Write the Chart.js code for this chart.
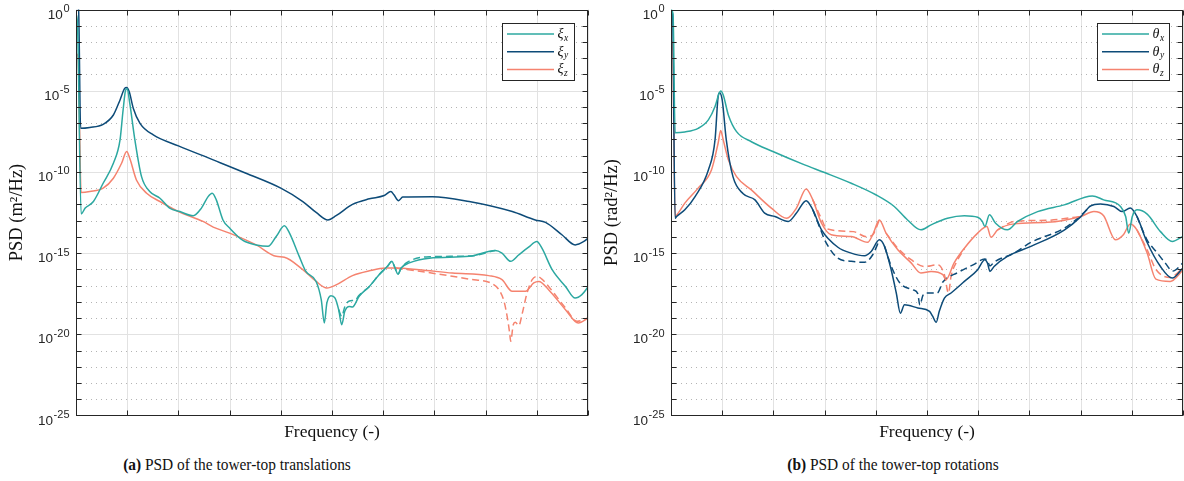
<!DOCTYPE html>
<html>
<head>
<meta charset="utf-8">
<script src="https://cdn.jsdelivr.net/npm/chart.js@4.4.1/dist/chart.umd.min.js"></script>
<style>
  html, body { margin: 0; padding: 0; background: #fff; }
  #page { position: relative; width: 1184px; height: 481px; overflow: hidden; }
  .panel { position: absolute; top: 0; width: 595px; height: 448px; }
  .caption { position: absolute; top: 454px; width: 400px; text-align: center;
             font-family: "Liberation Serif", serif; font-size: 17.5px; color: #111;
             transform: scaleX(0.88); transform-origin: center; }
</style>
</head>
<body>
<div id="page">
  <div class="panel" style="left:0"><canvas id="psdTrans" width="595" height="448"></canvas></div>
  <div class="panel" style="left:595px"><canvas id="psdRot" width="595" height="448"></canvas></div>
  <div class="caption" style="left:37px"><b>(a)</b> PSD of the tower-top translations</div>
  <div class="caption" style="left:693px"><b>(b)</b> PSD of the tower-top rotations</div>
</div>
<script>
// axis setup
var freqTicks = [0, 1, 2, 3, 4, 5, 6, 7, 8, 9, 10];
var psdTicks = [1, 1e-5, 1e-10, 1e-15, 1e-20, 1e-25];
var psdTickExp = ['0', '-5', '-10', '-15', '-20', '-25'];
var legendSubs = ['x', 'y', 'z'];

// (a) translations, solid
var xiX_f = [0, 0.03, 0.10, 0.18, 0.34, 0.53, 0.73, 0.86, 0.92, 0.97, 1.0, 1.05, 1.15, 1.28, 1.44, 1.64, 1.83, 2.03, 2.29, 2.45, 2.58, 2.66, 2.74, 2.87, 3.0, 3.26, 3.52, 3.75, 3.91, 4.07, 4.17, 4.36, 4.49, 4.69, 4.79, 4.85, 4.90, 4.98, 5.06, 5.13, 5.19, 5.25, 5.34, 5.40, 5.53, 5.73, 5.92, 6.08, 6.17, 6.22, 6.29, 6.35, 6.51, 6.90, 7.68, 8.19, 8.32, 8.49, 8.65, 8.84, 9.0, 9.10, 9.30, 9.56, 9.75, 9.88, 10];
var xiX_psd = [0.56, 0.1, 2.6e-13, 5.9e-13, 1.5e-12, 2.0e-11, 3.4e-10, 9.3e-9, 6.5e-7, 1.1e-5, 1.3e-5, 1.7e-6, 9.3e-9, 5.1e-11, 6.2e-12, 2.4e-12, 5.9e-13, 3.6e-13, 2.0e-13, 5.9e-13, 3.0e-12, 4.9e-12, 1.9e-12, 1.1e-13, 3.5e-14, 6.0e-15, 3.2e-15, 2.6e-15, 1.05e-14, 4.8e-14, 1.7e-14, 6.3e-16, 7.4e-17, 1.8e-17, 1.35e-18, 5.0e-20, 8.5e-19, 2.4e-18, 1.7e-18, 3.3e-19, 3.9e-20, 2.6e-19, 5.2e-19, 4.8e-19, 2.2e-18, 8.9e-18, 4.7e-17, 1.5e-16, 3.1e-16, 1.5e-16, 5.1e-17, 1.2e-16, 2.5e-16, 4.9e-16, 6.3e-16, 1.45e-15, 1.0e-15, 3.1e-16, 7.9e-16, 2.3e-15, 5.2e-15, 2.0e-15, 9.5e-17, 8.9e-18, 1.7e-18, 2.75e-18, 8.1e-18];

var xiY_f = [0, 0.05, 0.09, 0.27, 0.53, 0.73, 0.86, 0.95, 0.99, 1.04, 1.12, 1.25, 1.51, 2.0, 2.68, 3.32, 4.0, 4.43, 4.69, 4.92, 5.08, 5.40, 5.73, 6.02, 6.15, 6.21, 6.30, 6.38, 6.96, 7.68, 8.52, 8.97, 9.17, 9.49, 9.75, 9.92, 10];
var xiY_psd = [1.5, 1.0, 4.8e-8, 5.4e-8, 8.5e-8, 3.2e-7, 2.7e-6, 1.4e-5, 1.6e-5, 8.7e-6, 8.1e-7, 9.8e-8, 1.9e-8, 4.0e-9, 5.5e-10, 8.3e-11, 1.0e-11, 1.5e-12, 3.2e-13, 1.1e-13, 2.0e-13, 1.0e-12, 2.2e-12, 3.5e-12, 6.2e-12, 3.9e-12, 1.7e-12, 2.8e-12, 3.0e-12, 1.5e-12, 3.6e-13, 1.1e-13, 7.8e-14, 1.35e-14, 3.2e-15, 5.2e-15, 8.3e-15];

var xiZ_f = [0, 0.04, 0.10, 0.27, 0.53, 0.73, 0.89, 0.99, 1.05, 1.18, 1.38, 1.64, 2.0, 2.48, 2.68, 3.0, 3.52, 3.91, 4.07, 4.43, 4.69, 4.90, 5.08, 5.40, 5.73, 6.05, 6.25, 6.70, 7.35, 8.06, 8.32, 8.52, 8.78, 8.94, 9.04, 9.23, 9.56, 9.81, 10];
var xiZ_psd = [2.0e-3, 1.2e-3, 5.4e-12, 6.2e-12, 1.0e-11, 4.1e-11, 3.4e-10, 1.8e-9, 6.9e-10, 3.2e-11, 4.9e-12, 1.5e-12, 3.6e-13, 8.9e-14, 4.0e-14, 1.7e-14, 3.2e-15, 6.3e-16, 5.6e-16, 9.5e-17, 1.8e-17, 7.1e-18, 1.1e-17, 4.1e-17, 8.1e-17, 1.2e-16, 1.2e-16, 9.5e-17, 5.9e-17, 4.1e-17, 2.3e-17, 4.4e-18, 4.4e-18, 1.45e-17, 1.8e-17, 5.6e-18, 3.3e-19, 5.0e-20, 1.0e-19];

// (a) translations, dashed (only where it leaves the solid curve)
var xiXd_f = [5.13, 5.19, 5.25, 5.34, 5.45, 5.53, 5.73, 5.92, 6.08, 6.17, 6.22, 6.29, 6.35, 6.51, 6.90, 7.68, 8.19];
var xiXd_psd = [3.3e-19, 1.26e-19, 5.0e-19, 1.12e-18, 1.26e-18, 2.5e-18, 8.9e-18, 4.7e-17, 1.5e-16, 3.1e-16, 1.5e-16, 5.1e-17, 1.2e-16, 3.2e-16, 6.0e-16, 6.6e-16, 1.45e-15];
var xiZd_f = [6.25, 6.38, 7.03, 7.68, 8.13, 8.26, 8.36, 8.42, 8.47, 8.49, 8.54, 8.58, 8.65, 8.71, 8.81, 8.91, 9.01, 9.10, 9.23, 9.56, 9.79, 10];
var xiZd_psd = [1.2e-16, 1.05e-16, 5.4e-17, 2.5e-17, 1.3e-17, 5.6e-18, 1.07e-18, 1.3e-19, 1.2e-20, 3.7e-21, 3.9e-20, 5.5e-20, 3.4e-20, 1.6e-19, 3.5e-18, 2.3e-17, 3.7e-17, 2.5e-17, 8.9e-18, 4.2e-19, 6.3e-20, 1.0e-19];

// (b) rotations, solid
var thX_f = [0, 0.04, 0.08, 0.27, 0.53, 0.73, 0.86, 0.94, 0.97, 1.02, 1.12, 1.28, 1.57, 1.99, 2.61, 3.0, 3.52, 4.0, 4.36, 4.62, 4.88, 5.08, 5.40, 5.73, 5.99, 6.08, 6.13, 6.22, 6.34, 6.57, 6.77, 7.16, 7.68, 8.23, 8.45, 8.78, 8.88, 8.94, 9.01, 9.10, 9.30, 9.56, 9.79, 10];
var thX_psd = [1.0, 0.5, 2.6e-8, 2.9e-8, 4.8e-8, 1.6e-7, 1.05e-6, 6.9e-6, 9.5e-6, 5.4e-6, 3.2e-7, 3.0e-8, 7.2e-9, 1.8e-9, 2.7e-10, 9.1e-11, 2.0e-11, 3.9e-12, 7.4e-13, 1.1e-13, 2.7e-14, 5.5e-14, 1.4e-13, 2.0e-13, 1.6e-13, 8.9e-14, 4.3e-14, 2.3e-13, 6.9e-14, 2.7e-14, 8.9e-14, 3.6e-13, 9.3e-13, 3.3e-12, 1.9e-12, 7.4e-13, 1.8e-13, 1.7e-14, 1.8e-13, 4.6e-13, 2.5e-13, 2.1e-14, 5.2e-15, 1.07e-14];

var thY_f = [0, 0.03, 0.08, 0.11, 0.27, 0.47, 0.73, 0.86, 0.92, 0.95, 1.0, 1.08, 1.21, 1.41, 1.64, 1.83, 2.03, 2.29, 2.45, 2.64, 2.77, 2.94, 3.26, 3.52, 3.78, 3.91, 4.07, 4.17, 4.30, 4.40, 4.48, 4.56, 4.82, 5.05, 5.11, 5.18, 5.24, 5.34, 5.47, 5.73, 5.99, 6.13, 6.18, 6.23, 6.31, 6.57, 7.03, 7.68, 8.0, 8.19, 8.39, 8.65, 8.81, 8.97, 9.10, 9.30, 9.56, 9.79, 10];
var thY_psd = [0.63, 0.56, 1.4e-13, 1.8e-13, 4.6e-13, 3.0e-12, 1.3e-10, 9.3e-9, 4.3e-6, 7.6e-6, 2.7e-6, 9.3e-9, 5.1e-11, 4.5e-12, 1.9e-12, 2.9e-13, 1.8e-13, 8.9e-14, 2.9e-13, 1.7e-12, 4.6e-13, 2.7e-14, 2.3e-15, 1.0e-15, 6.9e-16, 1.26e-15, 6.6e-15, 2.6e-15, 9.5e-17, 3.5e-18, 2.0e-19, 6.6e-19, 4.2e-19, 2.6e-19, 1.3e-19, 5.5e-20, 2.6e-19, 1.7e-18, 3.5e-18, 1.8e-17, 9.5e-17, 3.9e-16, 2.5e-16, 7.4e-17, 1.5e-16, 6.3e-16, 2.6e-15, 2.6e-14, 1.7e-13, 7.9e-13, 1.07e-12, 7.4e-13, 3.6e-13, 5.9e-13, 1.8e-13, 4.5e-15, 1.5e-16, 2.9e-17, 1.26e-16];

var thZ_f = [0, 0.03, 0.08, 0.14, 0.27, 0.53, 0.79, 0.92, 0.97, 1.02, 1.12, 1.28, 1.57, 1.96, 2.26, 2.45, 2.64, 2.77, 2.94, 3.13, 3.52, 3.84, 3.94, 4.07, 4.20, 4.43, 4.69, 4.88, 5.08, 5.31, 5.37, 5.53, 5.73, 5.99, 6.17, 6.25, 6.38, 6.70, 7.35, 8.0, 8.26, 8.45, 8.68, 8.84, 8.97, 9.10, 9.30, 9.47, 9.75, 10];
var thZ_psd = [1.3e-2, 8.1e-3, 1.8e-13, 2.9e-13, 1.2e-12, 1.0e-11, 1.3e-10, 5.8e-9, 3.5e-8, 9.3e-9, 5.5e-10, 5.1e-11, 7.8e-12, 5.9e-13, 1.4e-13, 5.9e-13, 8.9e-12, 1.9e-12, 6.9e-14, 1.35e-14, 1.05e-14, 4.6e-15, 1.35e-14, 1.1e-13, 1.7e-14, 1.6e-15, 2.5e-16, 5.9e-17, 7.4e-17, 4.7e-17, 2.3e-17, 2.5e-16, 2.0e-15, 1.7e-14, 4.4e-14, 9.5e-15, 2.7e-14, 6.3e-14, 7.8e-14, 1.8e-13, 3.6e-13, 2.0e-13, 6.6e-15, 1.4e-14, 6.3e-14, 2.7e-14, 1.0e-15, 2.5e-17, 1.8e-17, 9.1e-17];

// (b) rotations, dashed (null = gap between segments)
var thYd_f = [2.77, 2.94, 3.0, 3.26, 3.52, 3.78, 3.94, 4.07, 4.12, 4.17, 4.30, 4.47, 4.73, 4.82, 4.86, 4.92, 5.0, 5.2, 5.31, 5.6, 5.9, 6.13, 6.18, 6.23, 6.31, 6.70, 7.03, 7.68, 8.0, 8.19, 8.6, 9.10, 9.30, 9.49, 9.65, 9.80, 10];
var thYd_psd = [4.6e-13, 2.0e-14, 6.6e-15, 4.9e-16, 3.1e-16, 2.7e-16, 7.9e-16, 6.6e-15, null, 2.6e-15, 1.6e-16, 1.45e-17, 5.4e-18, 3.2e-18, 6.3e-19, 2.5e-18, 3.5e-18, 3.5e-18, 1.66e-17, 6.3e-17, 1.9e-16, 4.3e-16, 3.5e-16, 1.6e-16, 2.8e-16, 1.0e-15, 4.6e-15, 3.4e-14, 2.0e-13, 7.9e-13, null, 1.8e-13, 6.3e-15, 1.1e-15, 2.5e-16, 7.9e-17, 2.5e-16];
var thZd_f = [2.77, 2.94, 3.04, 3.56, 3.82, 3.94, 4.07, 4.13, 4.20, 4.43, 4.69, 4.95, 5.21, 5.34, 5.42, 5.47, 5.60, 5.73, 6.0, 6.38, 6.70, 7.35, 8.0, 8.6, 9.10, 9.30, 9.47, 9.75, 10];
var thZd_psd = [1.9e-12, 1.26e-13, 3.2e-14, 2.1e-14, 1.02e-14, 1.35e-14, 1.1e-13, null, 1.7e-14, 2.0e-15, 3.9e-16, 1.5e-16, 1.9e-16, 4.7e-17, 3.5e-18, 3.7e-17, 3.9e-16, 1.8e-15, null, 2.7e-14, 8.9e-14, 1.05e-13, 1.8e-13, null, 2.7e-14, 1.6e-15, 1.0e-16, 3.2e-17, 1.2e-16];

var cTeal = '#2ca8a1', cNavy = '#0d4b78', cSalmon = '#f5836f';
var cAxis = '#262626';

function pts(f, p) {
    return f.map(function (v, i) { return { x: v, y: p[i] }; });
}

function curve(label, f, p, color, dashed) {
    return {
        label: label,
        data: pts(f, p),
        borderColor: color,
        borderWidth: 1.5,
        borderDash: dashed ? [7, 4] : [],
        pointRadius: 0,
        fill: false,
        cubicInterpolationMode: 'monotone',
        spanGaps: false
    };
}

// grid, box, inward ticks, tick labels, titles and the in-plot legend
var framePlugin = {
    id: 'frame',
    beforeDatasetsDraw: function (chart) {
        var ctx = chart.ctx, a = chart.chartArea;
        var xs = chart.scales.x, ys = chart.scales.y;
        ctx.save();
        ctx.lineWidth = 1;
        ctx.strokeStyle = '#e2e2e2';
        freqTicks.forEach(function (f) {
            var px = Math.round(xs.getPixelForValue(f)) + 0.5;
            ctx.beginPath(); ctx.moveTo(px, a.top); ctx.lineTo(px, a.bottom); ctx.stroke();
        });
        for (var e = -24; e < 0; e++) {
            var py = Math.round(ys.getPixelForValue(Math.pow(10, e))) + 0.5;
            if (e % 5 === 0) {
                ctx.setLineDash([]);
                ctx.strokeStyle = '#e2e2e2';
            } else {
                ctx.setLineDash([1, 4]);
                ctx.strokeStyle = '#b4b4b4';
            }
            ctx.beginPath(); ctx.moveTo(a.left, py); ctx.lineTo(a.right, py); ctx.stroke();
        }
        ctx.restore();
    },
    afterDatasetsDraw: function (chart, args, opts) {
        var ctx = chart.ctx, a = chart.chartArea;
        var xs = chart.scales.x, ys = chart.scales.y;
        var L = Math.round(a.left) + 0.5, R = Math.round(a.right) - 0.5;
        var T = Math.round(a.top) + 0.5, B = Math.round(a.bottom) - 0.5;
        ctx.save();
        ctx.strokeStyle = cAxis;
        ctx.lineWidth = 1;
        ctx.strokeRect(L, T, R - L, B - T);

        // inward ticks
        ctx.beginPath();
        freqTicks.forEach(function (f) {
            var px = Math.round(xs.getPixelForValue(f)) + 0.5;
            ctx.moveTo(px, T); ctx.lineTo(px, T + 5);
            ctx.moveTo(px, B); ctx.lineTo(px, B - 5);
        });
        for (var e = -24; e < 0; e++) {
            var py = Math.round(ys.getPixelForValue(Math.pow(10, e))) + 0.5;
            ctx.moveTo(L, py); ctx.lineTo(L + 5, py);
            ctx.moveTo(R, py); ctx.lineTo(R - 5, py);
        }
        ctx.stroke();

        // y tick labels 10^n
        ctx.fillStyle = cAxis;
        ctx.textAlign = 'right';
        ctx.textBaseline = 'alphabetic';
        psdTicks.forEach(function (v, i) {
            var py = ys.getPixelForValue(v);
            ctx.font = '11px "Liberation Sans", Arial, sans-serif';
            var ew = ctx.measureText(psdTickExp[i]).width;
            ctx.fillText(psdTickExp[i], a.left - 6.5, py + 2.5);
            ctx.font = '13.5px "Liberation Sans", Arial, sans-serif';
            ctx.fillText('10', a.left - 7 - ew, py + 9);
        });

        // axis titles
        ctx.fillStyle = '#111';
        ctx.textAlign = 'center';
        ctx.textBaseline = 'middle';
        ctx.font = '17.5px "Liberation Serif", serif';
        ctx.fillText('Frequency (-)', (a.left + a.right) / 2, 432);
        ctx.save();
        ctx.translate(17.5, (a.top + a.bottom) / 2);
        ctx.rotate(-Math.PI / 2);
        ctx.font = '18.5px "Liberation Serif", serif';
        ctx.fillText(opts.yTitle, 0, 0);
        ctx.restore();

        // legend
        var bw = 72, bh = 57;
        var bx = Math.round(a.right - 14.5 - bw) + 0.5, by = Math.round(a.top + 13) + 0.5;
        ctx.fillStyle = '#fff';
        ctx.fillRect(bx, by, bw, bh);
        ctx.strokeStyle = cAxis;
        ctx.strokeRect(bx, by, bw, bh);
        var solids = chart.data.datasets.slice(0, 3);
        solids.forEach(function (ds, i) {
            var ly = by + 10.5 + i * 17.7;
            ctx.strokeStyle = ds.borderColor;
            ctx.lineWidth = 1.5;
            ctx.beginPath(); ctx.moveTo(bx + 4.5, ly); ctx.lineTo(bx + 51.5, ly); ctx.stroke();
            ctx.fillStyle = '#111';
            ctx.textAlign = 'left';
            ctx.textBaseline = 'alphabetic';
            ctx.font = 'italic 14px "Liberation Serif", serif';
            ctx.fillText(opts.symbol, bx + 55, ly + 4);
            var sw = ctx.measureText(opts.symbol).width;
            ctx.font = 'italic 9.5px "Liberation Serif", serif';
            ctx.fillText(legendSubs[i], bx + 55 + sw + 0.5, ly + 6.5);
        });
        ctx.restore();
    }
};

function makeChart(id, datasets, yTitle, symbol) {
    return new Chart(document.getElementById(id), {
        type: 'line',
        data: { datasets: datasets },
        plugins: [framePlugin],
        options: {
            responsive: false,
            animation: false,
            layout: { padding: { top: 9.5, right: 7, left: 0, bottom: 0 } },
            plugins: {
                legend: { display: false },
                tooltip: { enabled: false },
                frame: { yTitle: yTitle, symbol: symbol }
            },
            scales: {
                x: {
                    type: 'linear', min: 0, max: 10,
                    ticks: { display: false },
                    grid: { display: false },
                    border: { display: false },
                    afterFit: function (s) { s.height = 32.5; }
                },
                y: {
                    type: 'logarithmic', min: 1e-25, max: 1,
                    ticks: { display: false },
                    grid: { display: false },
                    border: { display: false },
                    afterFit: function (s) { s.width = 76; }
                }
            }
        }
    });
}

makeChart('psdTrans', [
    curve('\u03bex', xiX_f, xiX_psd, cTeal, false),
    curve('\u03bey', xiY_f, xiY_psd, cNavy, false),
    curve('\u03bez', xiZ_f, xiZ_psd, cSalmon, false),
    curve('\u03bex dashed', xiXd_f, xiXd_psd, cTeal, true),
    curve('\u03bez dashed', xiZd_f, xiZd_psd, cSalmon, true)
], 'PSD (m\u00b2/Hz)', '\u03be');

makeChart('psdRot', [
    curve('\u03b8x', thX_f, thX_psd, cTeal, false),
    curve('\u03b8y', thY_f, thY_psd, cNavy, false),
    curve('\u03b8z', thZ_f, thZ_psd, cSalmon, false),
    curve('\u03b8y dashed', thYd_f, thYd_psd, cNavy, true),
    curve('\u03b8z dashed', thZd_f, thZd_psd, cSalmon, true)
], 'PSD (rad\u00b2/Hz)', '\u03b8');
</script>
</body>
</html>
